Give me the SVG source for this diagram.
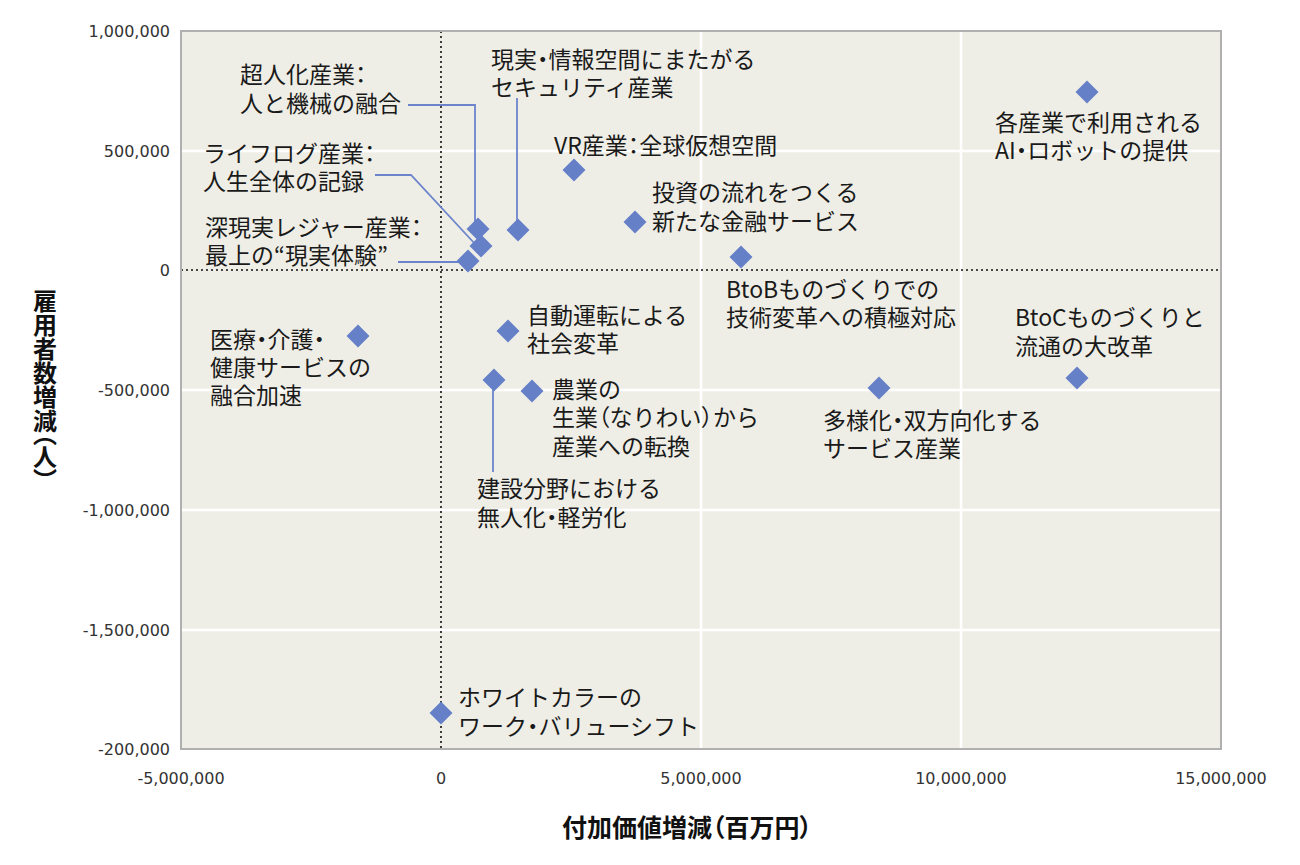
<svg xmlns="http://www.w3.org/2000/svg" xmlns:xlink="http://www.w3.org/1999/xlink" width="1300" height="865" viewBox="0 0 1300 865">
<style>
.lbl{font-family:"Noto Sans CJK JP","Noto Sans",sans-serif;font-size:23px;fill:#1a1a1a}
.p{font-feature-settings:"palt"}
.tick{font-family:"DejaVu Sans","Liberation Sans",sans-serif;font-size:16px;fill:#333}
.ttl{font-family:"Noto Sans CJK JP",sans-serif;font-size:25px;font-weight:bold;fill:#111;font-feature-settings:"palt"}
.vttl{font-family:"Noto Sans CJK JP",sans-serif;font-size:24px;font-weight:bold;fill:#111;font-feature-settings:"vpal"}
.grid{stroke:#ffffff;stroke-width:2.5;fill:none}
.zero{stroke:#111;stroke-width:1.6;stroke-dasharray:2 3;fill:none}
.lead{stroke:#6b84cc;stroke-width:1.8;fill:none}
.pt{fill:#6680c8}
</style>
<defs>
<path id="dm" d="M0,-11.5 L11.5,0 L0,11.5 L-11.5,0Z"/>
</defs>
<rect width="1300" height="865" fill="#ffffff"/>
<g id="plot">
<rect x="181" y="31" width="1040" height="718" fill="#efeee6"/>
<path class="grid" d="M701,31V749M961,31V749M181,151H1221M181,390H1221M181,510H1221M181,630H1221"/>
<path class="zero" d="M441,31V749M181,270H1221"/>
<rect x="181" y="31" width="1040" height="718" fill="none" stroke="#b0b0b0" stroke-width="2"/>
</g>
<g id="axes">
<g class="tick" text-anchor="end">
<text x="170" y="37">1,000,000</text>
<text x="170" y="157">500,000</text>
<text x="170" y="276">0</text>
<text x="170" y="396">-500,000</text>
<text x="170" y="516">-1,000,000</text>
<text x="170" y="636">-1,500,000</text>
<text x="170" y="755">-200,000</text>
</g>
<g class="tick" text-anchor="middle">
<text x="181" y="784">-5,000,000</text>
<text x="441" y="784">0</text>
<text x="701" y="784">5,000,000</text>
<text x="961" y="784">10,000,000</text>
<text x="1221" y="784">15,000,000</text>
</g>
<text class="ttl" x="687" y="837" text-anchor="middle">付加価値増減（百万円）</text>
<text class="vttl" x="45" y="289" writing-mode="vertical-rl">雇用者数増減（人）</text>
</g>
<g id="connectors">
<polyline class="lead" points="408,105 475,105 475,224"/>
<polyline class="lead" points="517,98 517,226"/>
<polyline class="lead" points="375,175 411,175 476,245"/>
<polyline class="lead" points="398,262 462,262"/>
<polyline class="lead" points="493,385 493,472"/>
</g>
<g id="n-chojinka"><use href="#dm" class="pt" x="478" y="229"/><text class="lbl" x="240" y="83">超人化産業<tspan class="p">：</tspan></text><text class="lbl" x="240" y="112">人と機械の融合</text></g>
<g id="n-security"><use href="#dm" class="pt" x="518" y="230"/><text class="lbl" x="491" y="68">現実<tspan class="p">・</tspan>情報空間にまたがる</text><text class="lbl" x="491" y="96">セキュリティ産業</text></g>
<g id="n-lifelog"><use href="#dm" class="pt" x="481" y="246"/><text class="lbl" x="203" y="162">ライフログ産業<tspan class="p">：</tspan></text><text class="lbl" x="203" y="190">人生全体の記録</text></g>
<g id="n-leisure"><use href="#dm" class="pt" x="468" y="261"/><text class="lbl" x="205" y="236">深現実レジャー産業<tspan class="p">：</tspan></text><text class="lbl" x="205" y="264">最上の“現実体験”</text></g>
<g id="n-vr"><use href="#dm" class="pt" x="574" y="170"/><text class="lbl" x="554" y="154">VR産業<tspan class="p">：</tspan>全球仮想空間</text></g>
<g id="n-finance"><use href="#dm" class="pt" x="635" y="222"/><text class="lbl" x="652" y="201">投資の流れをつくる</text><text class="lbl" x="652" y="230">新たな金融サービス</text></g>
<g id="n-btob"><use href="#dm" class="pt" x="741" y="257"/><text class="lbl" x="726" y="298">BtoBものづくりでの</text><text class="lbl" x="726" y="326">技術変革への積極対応</text></g>
<g id="n-ai"><use href="#dm" class="pt" x="1087" y="92"/><text class="lbl" x="995" y="131">各産業で利用される</text><text class="lbl" x="995" y="159">AI<tspan class="p">・</tspan>ロボットの提供</text></g>
<g id="n-medical"><use href="#dm" class="pt" x="358" y="336"/><text class="lbl" x="210" y="348">医療<tspan class="p">・</tspan>介護<tspan class="p">・</tspan></text><text class="lbl" x="210" y="376">健康サービスの</text><text class="lbl" x="210" y="404">融合加速</text></g>
<g id="n-auto"><use href="#dm" class="pt" x="508" y="331"/><text class="lbl" x="527" y="324">自動運転による</text><text class="lbl" x="527" y="352">社会変革</text></g>
<g id="n-construction"><use href="#dm" class="pt" x="494" y="380"/><text class="lbl" x="477" y="497">建設分野における</text><text class="lbl" x="477" y="526">無人化<tspan class="p">・</tspan>軽労化</text></g>
<g id="n-agri"><use href="#dm" class="pt" x="532" y="391"/><text class="lbl" x="552" y="398">農業の</text><text class="lbl" x="552" y="426">生業<tspan class="p">（</tspan>なりわい<tspan class="p">）</tspan>から</text><text class="lbl" x="552" y="455">産業への転換</text></g>
<g id="n-service"><use href="#dm" class="pt" x="879" y="388"/><text class="lbl" x="823" y="429">多様化<tspan class="p">・</tspan>双方向化する</text><text class="lbl" x="823" y="457">サービス産業</text></g>
<g id="n-btoc"><use href="#dm" class="pt" x="1077" y="378"/><text class="lbl" x="1015" y="326">BtoCものづくりと</text><text class="lbl" x="1015" y="355">流通の大改革</text></g>
<g id="n-whitecollar"><use href="#dm" class="pt" x="441" y="713"/><text class="lbl" x="458" y="706">ホワイトカラーの</text><text class="lbl" x="458" y="735">ワーク<tspan class="p">・</tspan>バリューシフト</text></g>
</svg>
